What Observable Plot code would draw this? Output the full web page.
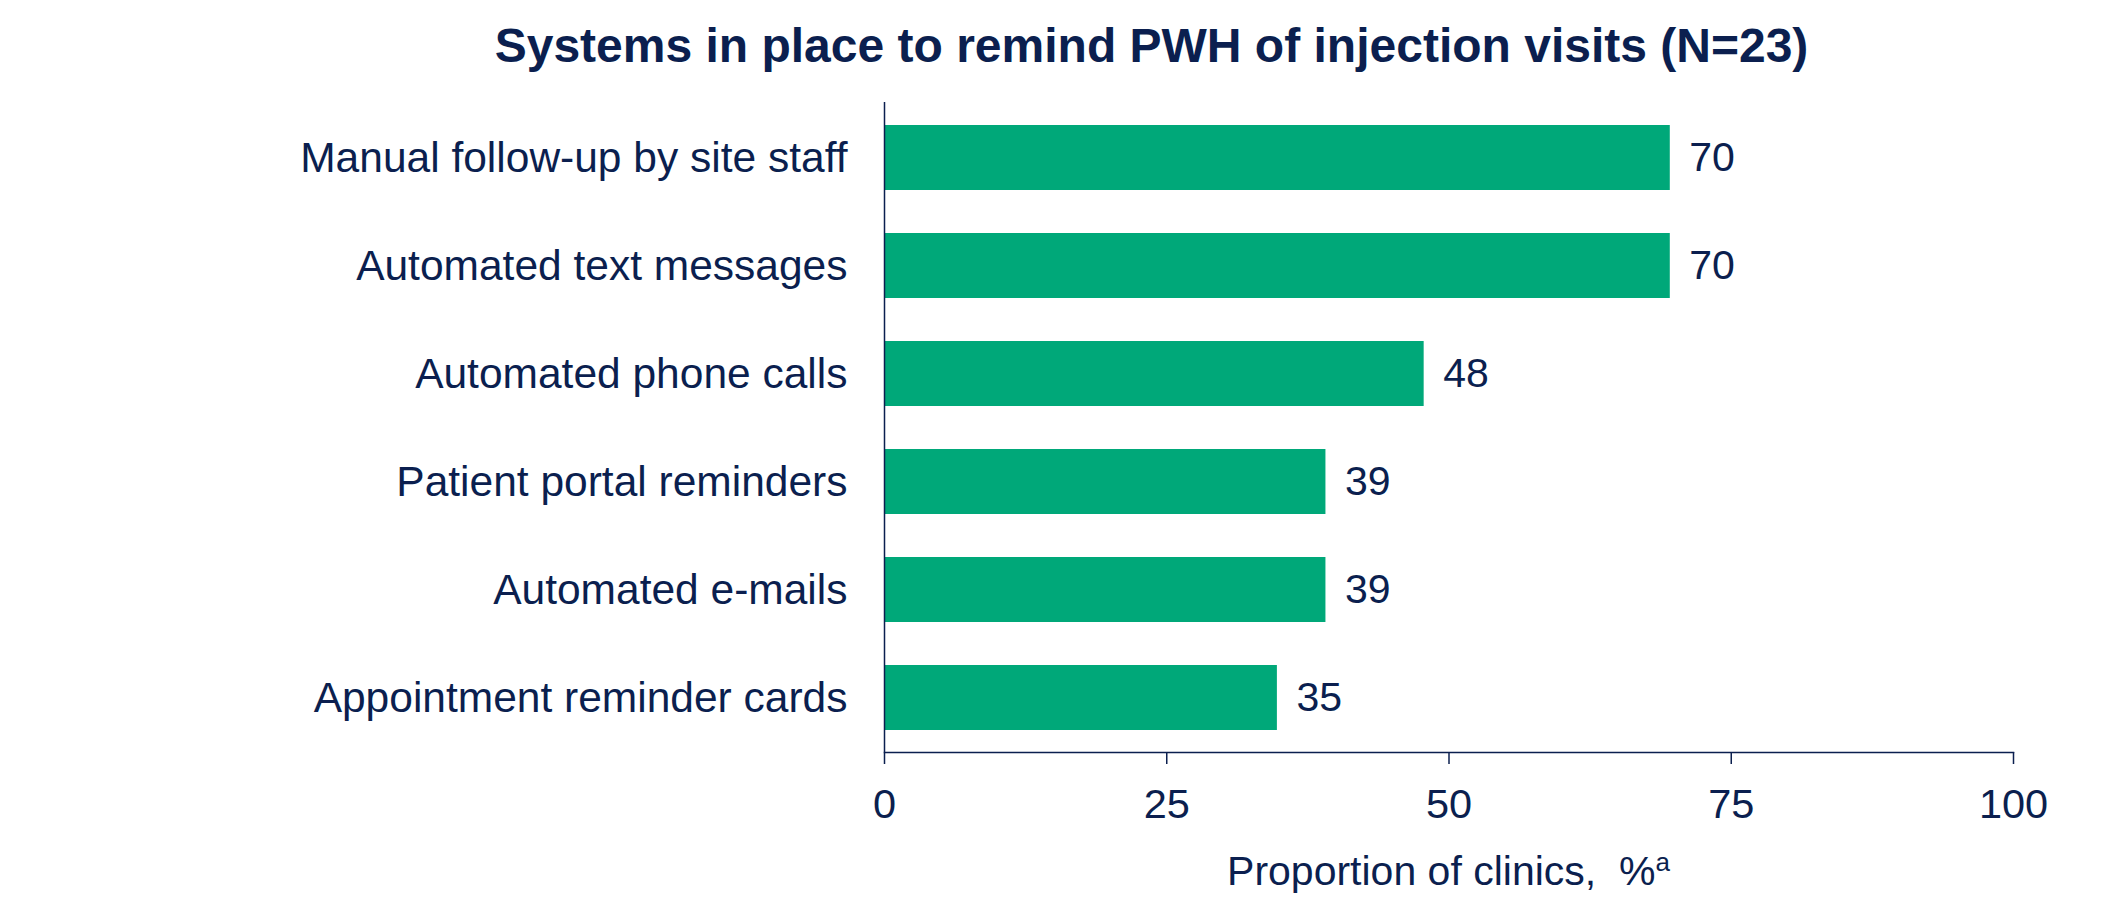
<!DOCTYPE html>
<html>
<head>
<meta charset="utf-8">
<script src="https://cdn.jsdelivr.net/npm/d3@7"></script>
<script src="https://cdn.jsdelivr.net/npm/@observablehq/plot@0.6"></script>
<style>
  html, body { margin: 0; padding: 0; background: white; }
  body { width: 2119px; font-family: "Liberation Sans", Arial, sans-serif; color: #0b1f4f; }
  #title { box-sizing: border-box; width: 2119px; height: 86px; padding-top: 6px; padding-left: 184px;
           line-height: 80px; font-size: 48px; font-weight: bold; text-align: center; white-space: nowrap; }
  #xlabel { box-sizing: border-box; width: 2119px; padding-top: 10px; padding-left: 884px; padding-right: 106px;
            line-height: 50px; font-size: 41px; text-align: center; white-space: nowrap; }
  #xlabel sup { font-size: 26px; line-height: 0; vertical-align: 14px; }
  #chart svg { display: block; }
</style>
</head>
<body>
<div id="title">Systems in place to remind PWH of injection visits (N=23)</div>
<div id="chart"></div>
<div id="xlabel">Proportion of clinics,&nbsp; %<sup>a</sup></div>
<script>
const categories = [
  "Manual follow-up by site staff",
  "Automated text messages",
  "Automated phone calls",
  "Patient portal reminders",
  "Automated e-mails",
  "Appointment reminder cards"
];
const values = [69.6, 69.6, 47.8, 39.1, 39.1, 34.8];
const valueLabels = ["70", "70", "48", "39", "39", "35"];
const xTicks = [0, 25, 50, 75, 100];

const data = categories.map((name, i) => ({name, value: values[i], label: valueLabels[i]}));

const navy = "#0b1f4f";
const green = "#00a879";

const chart = Plot.plot({
  width: 2119,
  height: 750,
  marginTop: 16,
  marginLeft: 884,
  marginRight: 106,
  marginBottom: 84,
  style: {color: navy, background: "white", fontFamily: "Liberation Sans, Arial, sans-serif"},
  x: {domain: [0, 100], ticks: xTicks},
  y: {domain: categories, paddingInner: 0.4, paddingOuter: 0.2},
  marks: [
    Plot.barX(data, {x: "value", y: "name", fill: green}),
    Plot.text(data, {x: "value", y: "name", text: "label", dx: 19, textAnchor: "start", fontSize: 41, fill: navy}),
    Plot.ruleX([0], {stroke: navy, strokeWidth: 1.5}),
    Plot.frame({anchor: "bottom", stroke: navy, strokeWidth: 1.5}),
    Plot.axisX({ticks: xTicks, tickSize: 12, tickPadding: 24, fontSize: 41.5, label: null, strokeWidth: 1.5}),
    Plot.axisY({tickSize: 0, tickPadding: 37, fontSize: 42.5, label: null})
  ]
});
document.getElementById("chart").appendChild(chart);
</script>
</body>
</html>
